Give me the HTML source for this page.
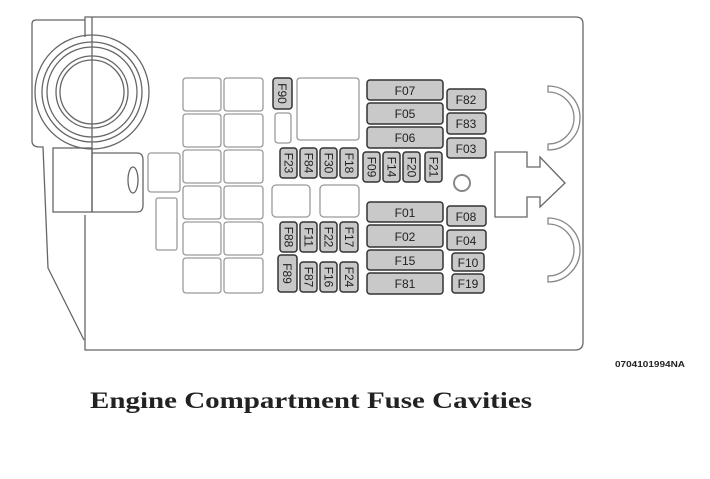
<!DOCTYPE html>
<html><head><meta charset="utf-8"><style>
html,body{margin:0;padding:0;background:#fff;width:710px;height:479px;overflow:hidden}
svg{display:block}
.e{fill:#fff;stroke:#9a9a9a;stroke-width:1.3}
.f{fill:#c9c9c9;stroke:#333;stroke-width:1.5}
.l{fill:none;stroke:#666;stroke-width:1.3}
text.t{font-family:"Liberation Sans",sans-serif;font-size:12px;fill:#222}
</style></head><body>
<svg width="710" height="479" viewBox="0 0 710 479" xmlns="http://www.w3.org/2000/svg">
<!-- outline -->
<path class="l" d="M85,37 L85,17 L576,17 Q583,17 583,24 L583,342 Q583,350 575,350 L85,350 L85,215"/>
<path class="l" d="M85,20 L36,20 Q32,20 32,24 L32,141 Q32,147 40,147 L43,147 L48,268 L84,340"/>
<line class="l" x1="92" y1="17" x2="92" y2="212"/>
<!-- circles -->
<circle class="l" cx="92" cy="92" r="57"/>
<circle class="l" cx="92" cy="92" r="50"/>
<circle class="l" cx="92" cy="92" r="45"/>
<circle class="l" cx="92" cy="92" r="36"/>
<circle class="l" cx="92" cy="92" r="32"/>
<!-- connector -->
<rect class="l" x="53" y="148" width="39" height="64" fill="#fff"/>
<path class="l" d="M92,153 L137,153 Q143,153 143,160 L143,205 Q143,212 137,212 L92,212"/>
<ellipse class="l" cx="133" cy="180" rx="5" ry="13"/>
<rect class="e" x="148" y="153" width="32" height="39" rx="3"/>
<rect class="e" x="156" y="198" width="21" height="52" rx="2"/>
<!-- grid -->
<g>
<rect class="e" x="183" y="78" width="38" height="33" rx="3"/><rect class="e" x="224" y="78" width="39" height="33" rx="3"/>
<rect class="e" x="183" y="114" width="38" height="33" rx="3"/><rect class="e" x="224" y="114" width="39" height="33" rx="3"/>
<rect class="e" x="183" y="150" width="38" height="33" rx="3"/><rect class="e" x="224" y="150" width="39" height="33" rx="3"/>
<rect class="e" x="183" y="186" width="38" height="33" rx="3"/><rect class="e" x="224" y="186" width="39" height="33" rx="3"/>
<rect class="e" x="183" y="222" width="38" height="33" rx="3"/><rect class="e" x="224" y="222" width="39" height="33" rx="3"/>
<rect class="e" x="183" y="258" width="38" height="35" rx="3"/><rect class="e" x="224" y="258" width="39" height="35" rx="3"/>
</g>
<rect class="e" x="275" y="113" width="16" height="30" rx="3"/>
<rect class="e" x="297" y="78" width="62" height="62" rx="3"/>
<rect class="e" x="272" y="185" width="38" height="32" rx="4"/>
<rect class="e" x="320" y="185" width="39" height="32" rx="4"/>
<circle cx="462" cy="183" r="8" fill="#fff" stroke="#888" stroke-width="2"/>
<!-- horizontal fuses -->
<g>
<rect class="f" x="367" y="80" width="76" height="20" rx="3"/><text class="t" x="405" y="95" text-anchor="middle">F07</text>
<rect class="f" x="367" y="103" width="76" height="21" rx="3"/><text class="t" x="405" y="118" text-anchor="middle">F05</text>
<rect class="f" x="367" y="127" width="76" height="21" rx="3"/><text class="t" x="405" y="142" text-anchor="middle">F06</text>
<rect class="f" x="367" y="202" width="76" height="20" rx="3"/><text class="t" x="405" y="217" text-anchor="middle">F01</text>
<rect class="f" x="367" y="225" width="76" height="22" rx="3"/><text class="t" x="405" y="241" text-anchor="middle">F02</text>
<rect class="f" x="367" y="250" width="76" height="20" rx="3"/><text class="t" x="405" y="265" text-anchor="middle">F15</text>
<rect class="f" x="367" y="273" width="76" height="21" rx="3"/><text class="t" x="405" y="288" text-anchor="middle">F81</text>
<rect class="f" x="447" y="89" width="39" height="21" rx="3"/><text class="t" x="466" y="104" text-anchor="middle">F82</text>
<rect class="f" x="447" y="113" width="39" height="21" rx="3"/><text class="t" x="466" y="128" text-anchor="middle">F83</text>
<rect class="f" x="447" y="138" width="39" height="20" rx="3"/><text class="t" x="466" y="153" text-anchor="middle">F03</text>
<rect class="f" x="447" y="206" width="39" height="20" rx="3"/><text class="t" x="466" y="221" text-anchor="middle">F08</text>
<rect class="f" x="447" y="230" width="39" height="20" rx="3"/><text class="t" x="466" y="245" text-anchor="middle">F04</text>
<rect class="f" x="452" y="253" width="32" height="18" rx="3"/><text class="t" x="468" y="267" text-anchor="middle">F10</text>
<rect class="f" x="452" y="274" width="32" height="19" rx="3"/><text class="t" x="468" y="288" text-anchor="middle">F19</text>
</g>
<!-- vertical fuses -->
<g>
<rect class="f" x="273" y="78" width="19" height="31" rx="3"/><text class="t" transform="translate(278,93.5) rotate(90)" text-anchor="middle">F90</text>
<rect class="f" x="280" y="148" width="17" height="30" rx="3"/><text class="t" transform="translate(284.5,163) rotate(90)" text-anchor="middle">F23</text>
<rect class="f" x="300" y="148" width="17" height="30" rx="3"/><text class="t" transform="translate(304.5,163) rotate(90)" text-anchor="middle">F84</text>
<rect class="f" x="320" y="148" width="17" height="30" rx="3"/><text class="t" transform="translate(324.5,163) rotate(90)" text-anchor="middle">F30</text>
<rect class="f" x="340" y="148" width="18" height="30" rx="3"/><text class="t" transform="translate(345,163) rotate(90)" text-anchor="middle">F18</text>
<rect class="f" x="363" y="152" width="17" height="30" rx="3"/><text class="t" transform="translate(367.5,167) rotate(90)" text-anchor="middle">F09</text>
<rect class="f" x="383" y="152" width="17" height="30" rx="3"/><text class="t" transform="translate(387.5,167) rotate(90)" text-anchor="middle">F14</text>
<rect class="f" x="403" y="152" width="17" height="30" rx="3"/><text class="t" transform="translate(407.5,167) rotate(90)" text-anchor="middle">F20</text>
<rect class="f" x="425" y="152" width="17" height="30" rx="3"/><text class="t" transform="translate(429.5,167) rotate(90)" text-anchor="middle">F21</text>
<rect class="f" x="280" y="222" width="17" height="30" rx="3"/><text class="t" transform="translate(284.5,237) rotate(90)" text-anchor="middle">F88</text>
<rect class="f" x="300" y="222" width="17" height="30" rx="3"/><text class="t" transform="translate(304.5,237) rotate(90)" text-anchor="middle">F11</text>
<rect class="f" x="320" y="222" width="17" height="30" rx="3"/><text class="t" transform="translate(324.5,237) rotate(90)" text-anchor="middle">F22</text>
<rect class="f" x="340" y="222" width="18" height="30" rx="3"/><text class="t" transform="translate(345,237) rotate(90)" text-anchor="middle">F17</text>
<rect class="f" x="278" y="255" width="19" height="37" rx="3"/><text class="t" transform="translate(283,273.5) rotate(90)" text-anchor="middle">F89</text>
<rect class="f" x="300" y="262" width="17" height="30" rx="3"/><text class="t" transform="translate(304.5,277) rotate(90)" text-anchor="middle">F87</text>
<rect class="f" x="320" y="262" width="17" height="30" rx="3"/><text class="t" transform="translate(324.5,277) rotate(90)" text-anchor="middle">F16</text>
<rect class="f" x="340" y="262" width="18" height="30" rx="3"/><text class="t" transform="translate(345,277) rotate(90)" text-anchor="middle">F24</text>
</g>
<!-- arrow -->
<polygon class="l" fill="#fff" points="495,152 527,152 527,167 540,167 540,157 565,183 540,207 540,197 527,197 527,217 495,217"/>
<!-- arcs -->
<path d="M548,86 A32,32 0 0 1 548,150 L548,144 A26,26 0 0 0 548,92 Z" fill="#fff" stroke="#888" stroke-width="1.3"/>
<path d="M548,218 A32,32 0 0 1 548,282 L548,276 A26,26 0 0 0 548,224 Z" fill="#fff" stroke="#888" stroke-width="1.3"/>
<text x="615" y="367" font-family="Liberation Sans,sans-serif" font-size="8" font-weight="bold" fill="#222" textLength="70" lengthAdjust="spacingAndGlyphs">0704101994NA</text>
<text x="90" y="408" font-family="Liberation Serif,serif" font-size="23" font-weight="bold" fill="#222" textLength="442" lengthAdjust="spacingAndGlyphs">Engine Compartment Fuse Cavities</text>
</svg>
</body></html>
